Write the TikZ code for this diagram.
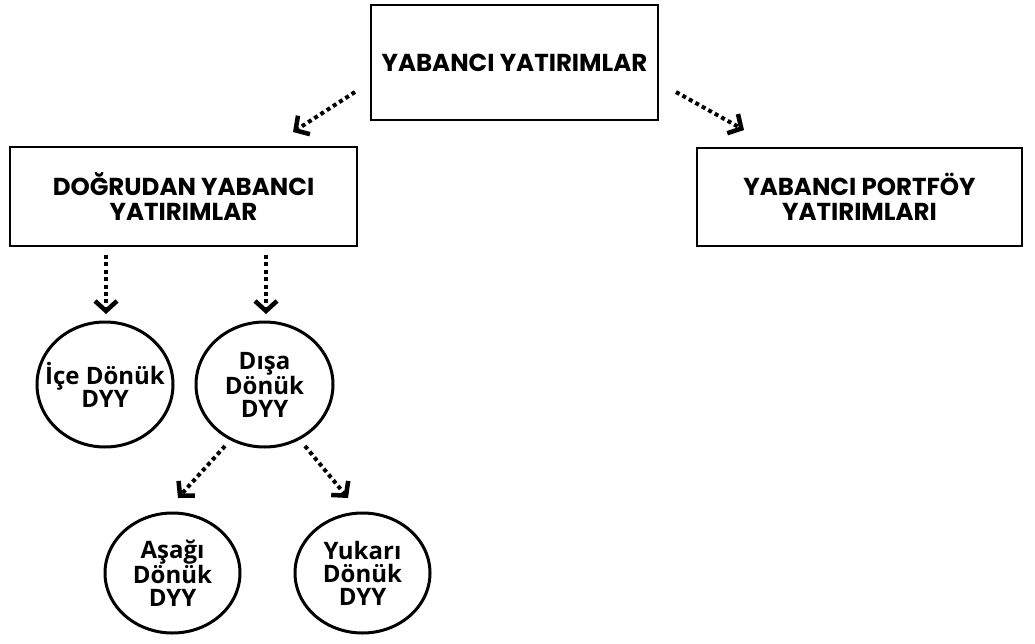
\documentclass[tikz,border=0pt]{standalone}
\usepackage{fontspec}
\setmainfont{Poppins}[UprightFont=* Bold, BoldFont=* Bold]
\newfontfamily\circfont{Open Sans}[UprightFont=* Bold]
\usetikzlibrary{arrows.meta,shapes.geometric}
\tikzset{
  boxnode/.style={draw, line width=2pt, align=center, font=\fontsize{24.5}{25}\selectfont, inner sep=0pt},
  circnode/.style={draw, ellipse, line width=3pt, align=center, font=\circfont\fontsize{24}{23}\selectfont, inner sep=-20pt},
  dotarrow/.style={line width=4pt, dash pattern=on 4pt off 3.4pt, -{Straight Barb[length=10pt,width=22pt,line width=4.5pt]}},
}
\begin{document}
\begin{tikzpicture}[x=1pt,y=-1pt]
\useasboundingbox (0,0) rectangle (1035,644);
\node[boxnode, minimum width=287pt, minimum height=115pt] (top) at (514.5,62.5) {YABANCI YATIRIMLAR};
\node[boxnode, minimum width=347pt, minimum height=99pt] (dyy) at (183.5,196.5) {DOĞRUDAN YABANCI\\YATIRIMLAR};
\node[boxnode, minimum width=325pt, minimum height=98pt] (ypy) at (859.5,197) {YABANCI PORTFÖY\\YATIRIMLARI};
\node[circnode, minimum width=136pt, minimum height=125pt] (ice) at (105,384.5) {İçe Dönük\\DYY};
\node[circnode, minimum width=137pt, minimum height=125pt] (disa) at (264.5,384.5) {Dışa\\Dönük\\DYY};
\node[circnode, minimum width=135pt, minimum height=120pt] (asagi) at (172.5,573) {Aşağı\\Dönük\\DYY};
\node[circnode, minimum width=135pt, minimum height=120pt] (yukari) at (362.5,573) {Yukarı\\Dönük\\DYY};
\coordinate (a1s) at (355,92); \coordinate (a1e) at (293,132);
\coordinate (a2s) at (676,92); \coordinate (a2e) at (744,130);
\coordinate (a3s) at (106,255); \coordinate (a3e) at (106,314);
\coordinate (a4s) at (266,255); \coordinate (a4e) at (266,314);
\coordinate (a5s) at (225,446); \coordinate (a5e) at (178,498);
\coordinate (a6s) at (305,446); \coordinate (a6e) at (348,498);
\draw[dotarrow] (a1s) -- (a1e);
\draw[dotarrow] (a2s) -- (a2e);
\draw[dotarrow] (a3s) -- (a3e);
\draw[dotarrow] (a4s) -- (a4e);
\draw[dotarrow] (a5s) -- (a5e);
\draw[dotarrow] (a6s) -- (a6e);
\end{tikzpicture}
\end{document}
